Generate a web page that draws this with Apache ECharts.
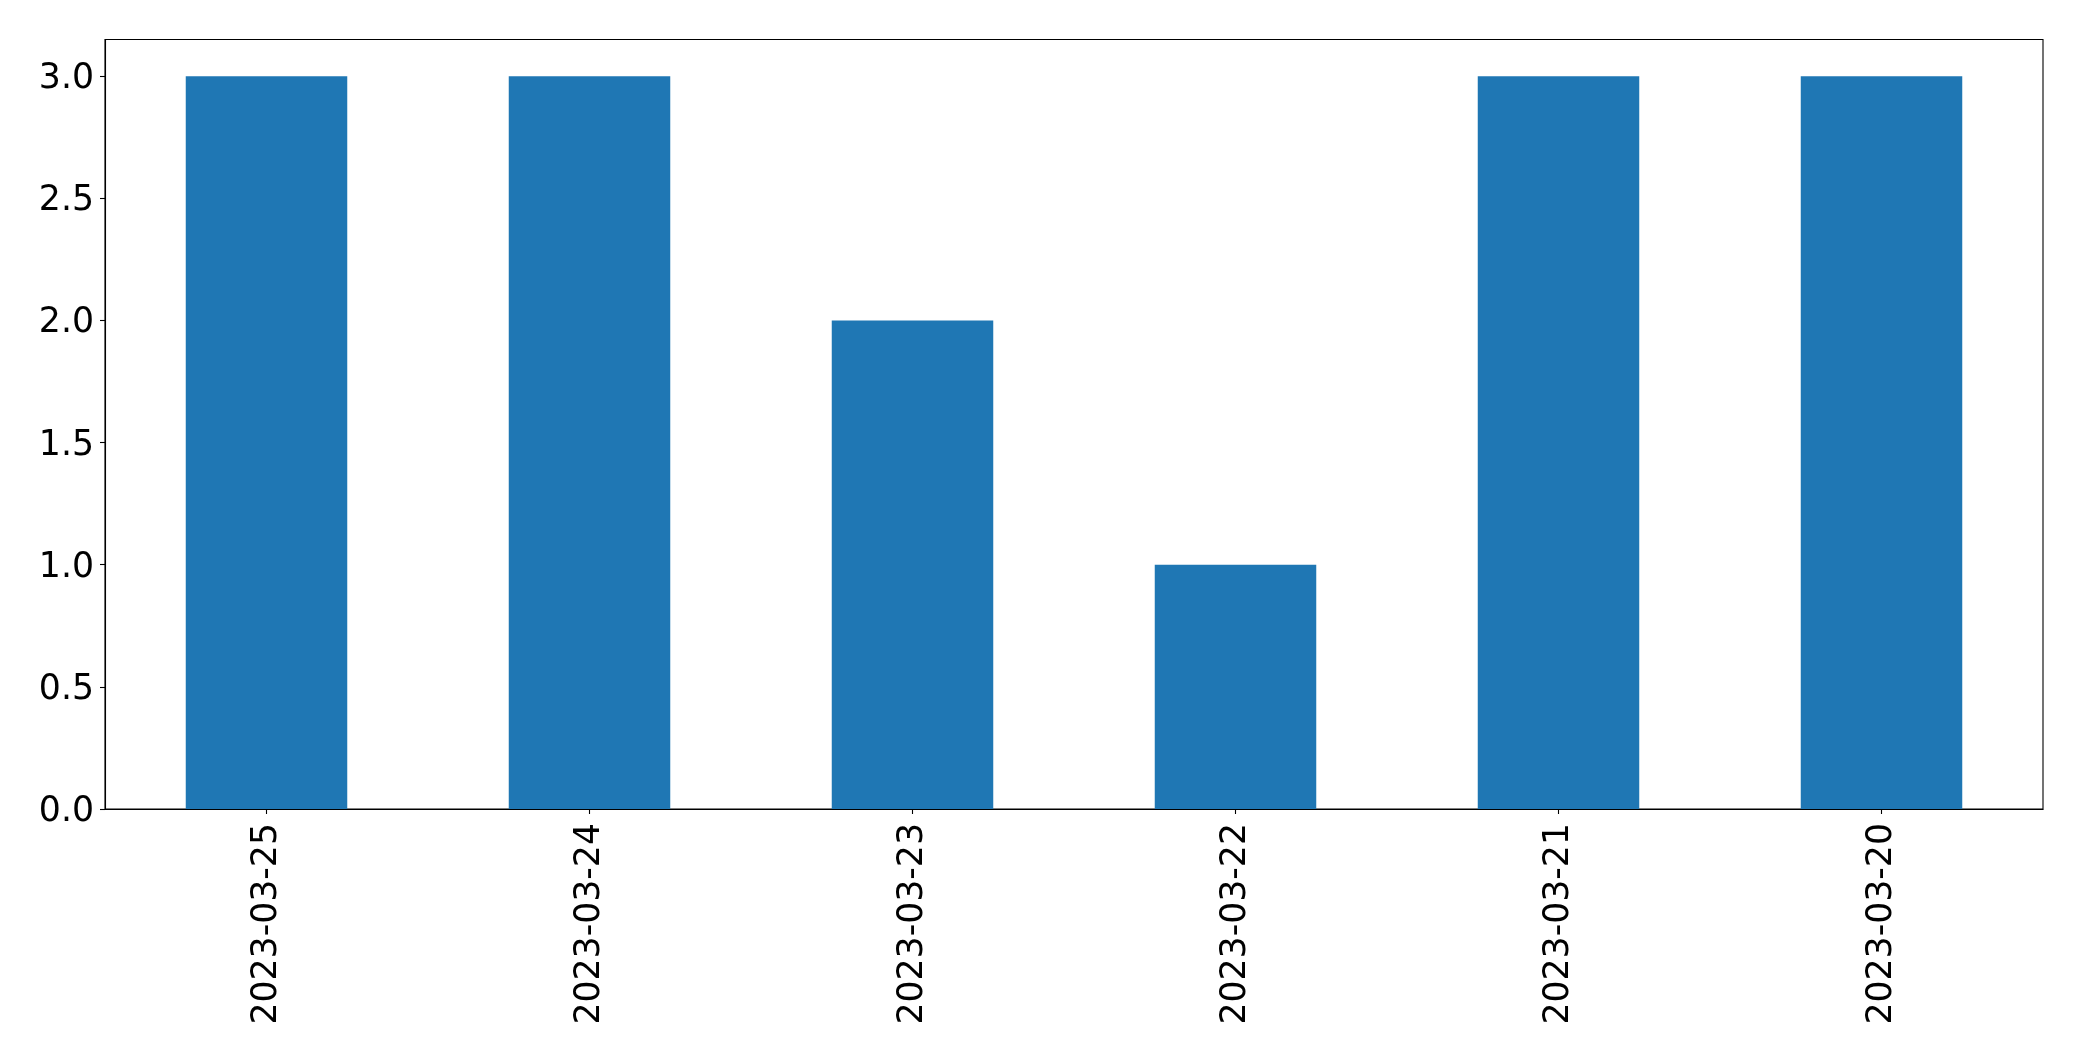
<!DOCTYPE html>
<html>
<head>
<meta charset="utf-8">
<script src="https://cdn.jsdelivr.net/npm/echarts@6/dist/echarts.min.js"></script>
<style>
html,body{margin:0;padding:0;background:#fff;}
#chart{width:2082px;height:1061px;}
</style>
</head>
<body>
<div id="chart"></div>
<script>
var categories = ['2023-03-25','2023-03-24','2023-03-23','2023-03-22','2023-03-21','2023-03-20'];
var values = [3, 3, 2, 1, 3, 3];
var yTicks = [0, 0.5, 1.0, 1.5, 2.0, 2.5, 3.0];
var yMax = 3.15;

var chart = echarts.init(document.getElementById('chart'), null, {renderer: 'canvas'});
var font = 'DejaVu Sans';
chart.setOption({
  animation: false,
  backgroundColor: '#ffffff',
  grid: {
    left: 105, right: 39, top: 39.5, bottom: 252,
    show: true, borderColor: '#000', borderWidth: 1.1, backgroundColor: 'transparent'
  },
  xAxis: {
    type: 'category',
    data: categories,
    boundaryGap: true,
    axisLine: {show: true, lineStyle: {color: '#000', width: 1.1}},
    axisTick: {show: true, alignWithLabel: true, length: 5, lineStyle: {color: '#000', width: 1.1}},
    axisLabel: {rotate: 90, margin: 14, fontFamily: font, fontSize: 34.7, color: '#000', interval: 0},
    splitLine: {show: false}
  },
  yAxis: {
    type: 'value',
    min: 0,
    max: yMax,
    axisLine: {show: true, lineStyle: {color: '#000', width: 1.1}},
    axisTick: {show: true, length: 5, customValues: yTicks, lineStyle: {color: '#000', width: 1.1}},
    axisLabel: {
      customValues: yTicks, margin: 11, fontFamily: font, fontSize: 34.7, color: '#000',
      formatter: function (v) { return '{a|' + v.toFixed(1) + '}'; },
      rich: {a: {fontFamily: font, fontSize: 34.7, color: '#000', padding: [6, 0, 0, 0]}}
    },
    splitLine: {show: false}
  },
  series: [{
    type: 'bar',
    data: values,
    barWidth: '50%',
    itemStyle: {color: '#1f77b4'}
  }]
});
</script>
</body>
</html>
